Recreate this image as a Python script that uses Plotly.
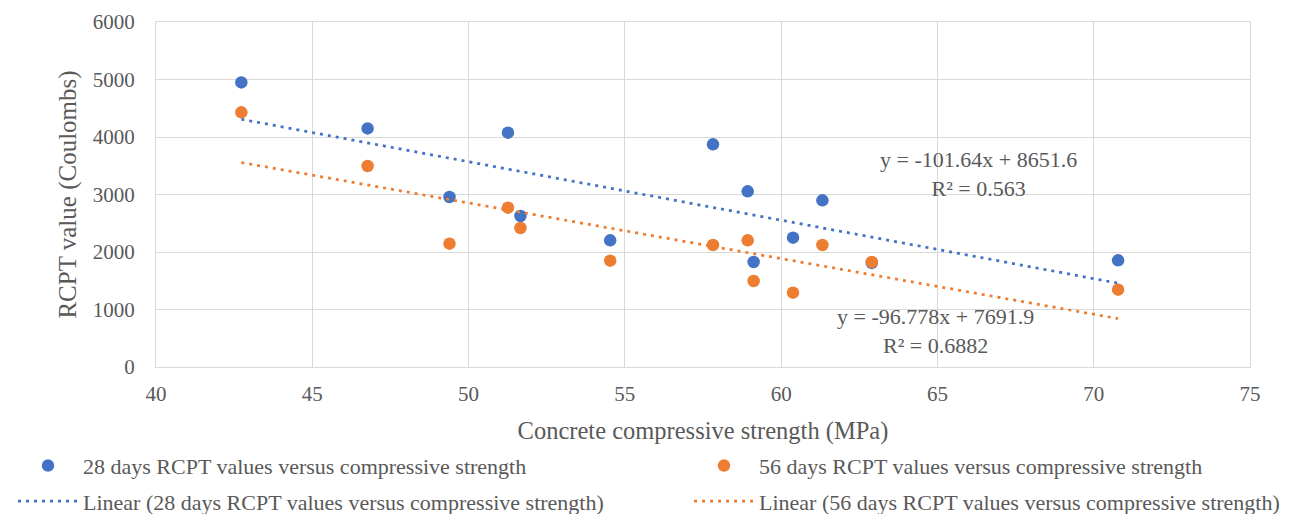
import plotly.graph_objects as go

# Data
strength = [42.73, 46.77, 49.39, 51.26, 51.66, 54.53, 57.82, 58.93, 59.12, 60.38, 61.32, 62.90, 70.78]
rcpt_28 = [4950, 4150, 2957, 4075, 2626, 2203, 3872, 3055, 1826, 2249, 2899, 1810, 1855]
rcpt_56 = [4429, 3496, 2145, 2771, 2417, 1849, 2122, 2203, 1496, 1293, 2122, 1826, 1345]

# Trendline coefficients (as printed on the chart)
slope_28, intercept_28, r2_28 = -101.64, 8651.6, 0.563
slope_56, intercept_56, r2_56 = -96.778, 7691.9, 0.6882

x_ticks = [40, 45, 50, 55, 60, 65, 70, 75]
y_ticks = [0, 1000, 2000, 3000, 4000, 5000, 6000]

name_28 = "28 days RCPT values versus compressive strength"
name_56 = "56 days RCPT values versus compressive strength"

BLUE = "#4472C4"
ORANGE = "#ED7D31"
GREY = "#595959"
GRID = "#D9D9D9"
FONT = "Liberation Serif, Times New Roman, serif"

x_line = [min(strength), max(strength)]
y_line_28 = [slope_28 * v + intercept_28 for v in x_line]
y_line_56 = [slope_56 * v + intercept_56 for v in x_line]

fig = go.Figure()
fig.add_trace(go.Scatter(x=strength, y=rcpt_28, mode="markers", name=name_28,
                         legend="legend", legendgroup="a",
                         marker=dict(color=BLUE, size=12.5)))
fig.add_trace(go.Scatter(x=strength, y=rcpt_56, mode="markers", name=name_56,
                         legend="legend2", legendgroup="c",
                         marker=dict(color=ORANGE, size=12.5)))
fig.add_trace(go.Scatter(x=x_line, y=y_line_28, mode="lines", name=f"Linear ({name_28})",
                         legend="legend", legendgroup="b",
                         line=dict(color=BLUE, width=2.75, dash="3px,5px")))
fig.add_trace(go.Scatter(x=x_line, y=y_line_56, mode="lines", name=f"Linear ({name_56})",
                         legend="legend2", legendgroup="d",
                         line=dict(color=ORANGE, width=2.75, dash="3px,5px")))

fig.add_annotation(x=66.3, y=3357, xref="x", yref="y", showarrow=False,
                   text=f"y = {slope_28}x + {intercept_28}<br>R² = {r2_28}",
                   font=dict(family=FONT, size=22, color=GREY), align="center")
fig.add_annotation(x=64.95, y=620, xref="x", yref="y", showarrow=False,
                   text=f"y = {slope_56}x + {intercept_56}<br>R² = {r2_56}",
                   font=dict(family=FONT, size=22, color=GREY), align="center")

legend_common = dict(orientation="v", xanchor="left", y=-0.2255, yanchor="top",
                     font=dict(family=FONT, size=22, color=GREY),
                     itemwidth=60, tracegroupgap=4, traceorder="grouped",
                     bgcolor="rgba(0,0,0,0)")

fig.update_layout(
    width=1286, height=506,
    margin=dict(l=148, r=44, t=14, b=147, autoexpand=False),
    paper_bgcolor="white", plot_bgcolor="white",
    font=dict(family=FONT, color=GREY),
    showlegend=True,
    legend=dict(x=(13 - 156) / 1094, **legend_common),
    legend2=dict(x=(689 - 156) / 1094, **legend_common),
    xaxis=dict(range=[40, 75], tickvals=x_ticks, showgrid=True, gridcolor=GRID, gridwidth=1.3,
               showline=True, linecolor=GRID, linewidth=1.3, mirror=True, zeroline=False,
               ticks="outside", ticklen=8, tickcolor="rgba(0,0,0,0)",
               tickfont=dict(family=FONT, size=21, color=GREY),
               title=dict(text="Concrete compressive strength (MPa)", standoff=16,
                          font=dict(family=FONT, size=24.5, color=GREY))),
    yaxis=dict(range=[0, 6000], tickvals=y_ticks, showgrid=True, gridcolor=GRID, gridwidth=1.3,
               showline=True, linecolor=GRID, linewidth=1.3, mirror=True, zeroline=False,
               ticks="outside", ticklen=16, tickcolor="rgba(0,0,0,0)",
               tickfont=dict(family=FONT, size=21, color=GREY),
               title=dict(text="RCPT value (Coulombs)", standoff=8,
                          font=dict(family=FONT, size=25, color=GREY))),
)

fig.write_html("out.html")
